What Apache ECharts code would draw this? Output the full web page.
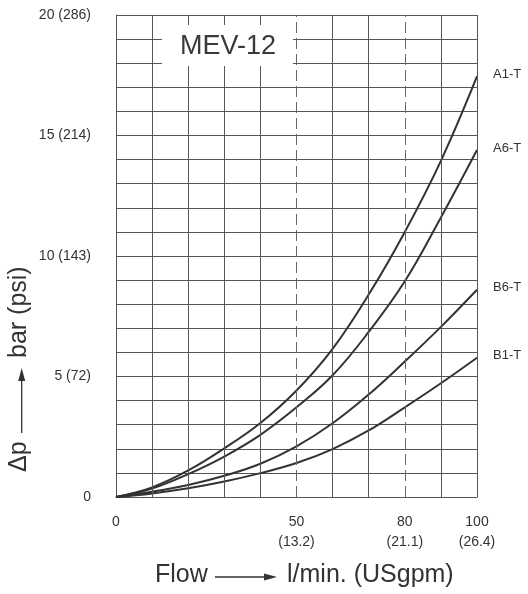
<!DOCTYPE html>
<html>
<head>
<meta charset="utf-8">
<script src="https://cdn.jsdelivr.net/npm/echarts@6/dist/echarts.min.js"></script>
<style>
html,body{margin:0;padding:0;background:#fff;}
#c{width:528px;height:594px;}
</style>
</head>
<body>
<div id="c"></div>
<script>
var flow = [0, 10, 20, 30, 40, 50, 60, 70, 80, 90, 100];
var seriesNames = ['A1-T', 'A6-T', 'B6-T', 'B1-T'];
var a1 = [0, 0.40, 1.10, 2.02, 3.07, 4.42, 6.15, 8.40, 11.0, 13.95, 17.45];
var a6 = [0, 0.35, 0.95, 1.68, 2.58, 3.72, 5.05, 6.85, 8.95, 11.6, 14.4];
var b6 = [0, 0.22, 0.50, 0.88, 1.38, 2.10, 3.06, 4.25, 5.62, 7.06, 8.6];
var b1 = [0, 0.15, 0.36, 0.64, 0.99, 1.41, 1.99, 2.76, 3.72, 4.72, 5.78];
var xTickValues = [0, 50, 80, 100];
var xTickLabels = ['0', '50\n(13.2)', '80\n(21.1)', '100\n(26.4)'];
var yTickValues = [0, 5, 10, 15, 20];
var yTickLabels = ['0', '5 (72)', '10 (143)', '15 (214)', '20 (286)'];
var xGridSolid = [10, 20, 30, 40, 60, 70, 90, 100];
var xGridDashed = [50, 80];
var chartTitle = 'MEV-12';
var xTitleLeft = 'Flow';
var xTitleRight = 'l/min. (USgpm)';
var yTitleLeft = 'Δp';
var yTitleRight = 'bar (psi)';

var FONT = '"Liberation Sans", Arial, sans-serif';
var chart = echarts.init(document.getElementById('c'), null, {renderer: 'canvas'});

function pairs(ys) { return flow.map(function (x, i) { return [x, ys[i]]; }); }
var allValues = [a1, a6, b6, b1];

var gridMarks = xGridSolid.map(function (v) {
  return {xAxis: v, lineStyle: {color: '#555', width: 1, type: 'solid'}};
}).concat(xGridDashed.map(function (v) {
  return {xAxis: v, lineStyle: {color: '#666', width: 1, type: [11, 5]}};
}));

var series = [{
  type: 'line', data: [], z: 1, silent: true,
  markLine: {silent: true, symbol: ['none', 'none'], label: {show: false}, animation: false, data: gridMarks}
}];
seriesNames.forEach(function (n, i) {
  series.push({
    name: n, type: 'line', data: pairs(allValues[i]), smooth: 0.4, showSymbol: false, z: 3,
    lineStyle: {color: '#333', width: 2},
    endLabel: {show: true, formatter: '{a}', distance: 16, color: '#333', fontSize: 13, fontFamily: FONT, offset: [0, -2]}
  });
});

var option = {
  animation: false,
  backgroundColor: '#fff',
  grid: {left: 116, right: 51, top: 15, bottom: 97, containLabel: false},
  xAxis: {
    type: 'value', min: 0, max: 100, interval: 10,
    axisLine: {show: true, lineStyle: {color: '#555', width: 1}},
    axisTick: {show: false},
    splitLine: {show: false},
    axisLabel: {
      margin: 15, color: '#333', fontSize: 14, fontFamily: FONT, lineHeight: 20,
      showMinLabel: true, showMaxLabel: true,
      formatter: function (v) { var k = xTickValues.indexOf(v); return k >= 0 ? xTickLabels[k] : ''; }
    }
  },
  yAxis: {
    type: 'value', min: 0, max: 20, interval: 1,
    axisLine: {show: true, lineStyle: {color: '#555', width: 1}},
    axisTick: {show: false},
    splitLine: {show: true, lineStyle: {color: '#555', width: 1}},
    axisLabel: {
      margin: 25, color: '#333', fontSize: 14, fontFamily: FONT,
      formatter: function (v) { var k = yTickValues.indexOf(v); return k >= 0 ? yTickLabels[k] : ''; }
    }
  },
  series: series,
  graphic: [
    {type: 'rect', z: 10, shape: {x: 162, y: 25, width: 131, height: 41}, style: {fill: '#fff'}},
    {type: 'text', z: 11, x: 228, y: 47, style: {text: chartTitle, fill: '#3a3a3a', fontSize: 27, fontFamily: FONT, align: 'center', verticalAlign: 'middle'}},
    {type: 'text', z: 11, x: 155, y: 575, style: {text: xTitleLeft, fill: '#333', fontSize: 25, fontFamily: FONT, align: 'left', verticalAlign: 'middle'}},
    {type: 'line', z: 11, shape: {x1: 215, y1: 577, x2: 266, y2: 577}, style: {stroke: '#333', lineWidth: 1.3}},
    {type: 'polygon', z: 11, shape: {points: [[277, 577], [264, 573.5], [264, 580.5]]}, style: {fill: '#333'}},
    {type: 'text', z: 11, x: 287, y: 575, style: {text: xTitleRight, fill: '#333', fontSize: 25, fontFamily: FONT, align: 'left', verticalAlign: 'middle'}},
    {type: 'text', z: 11, x: 19, y: 472, rotation: Math.PI / 2, style: {text: yTitleLeft, fill: '#333', fontSize: 25, fontFamily: FONT, align: 'left', verticalAlign: 'middle'}},
    {type: 'line', z: 11, shape: {x1: 21.7, y1: 433, x2: 21.7, y2: 379}, style: {stroke: '#333', lineWidth: 1.3}},
    {type: 'polygon', z: 11, shape: {points: [[21.7, 368], [18.2, 381], [25.2, 381]]}, style: {fill: '#333'}},
    {type: 'text', z: 11, x: 19, y: 358, rotation: Math.PI / 2, style: {text: yTitleRight, fill: '#333', fontSize: 25, fontFamily: FONT, align: 'left', verticalAlign: 'middle'}}
  ]
};
chart.setOption(option);
</script>
</body>
</html>
